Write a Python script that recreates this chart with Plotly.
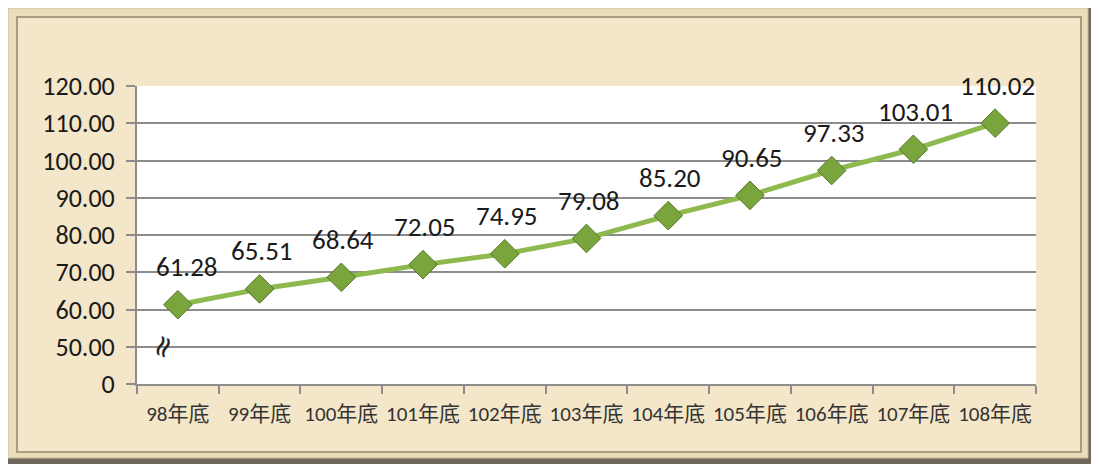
import plotly.graph_objects as go

# data
years = ['98年底', '99年底', '100年底', '101年底', '102年底', '103年底',
         '104年底', '105年底', '106年底', '107年底', '108年底']
values = [61.28, 65.51, 68.64, 72.05, 74.95, 79.08, 85.20, 90.65, 97.33, 103.01, 110.02]
tick_vals = [40, 50, 60, 70, 80, 90, 100, 110, 120]
tick_text = ['0', '50.00', '60.00', '70.00', '80.00', '90.00', '100.00', '110.00', '120.00']

# the page body has an 8px margin, so the figure is laid out 8px in
OFF = 8
W, H = 1099 - OFF, 467 - OFF
L, T = 137 - OFF, 86 - OFF
R = W - (1036 - OFF)
B = H - (384 - OFF)

FONT = 'Carlito, Lato, "Noto Sans CJK TC", sans-serif'


def px(x):
    # page pixel -> paper fraction
    return (x - OFF - L) / (W - L - R)


def py(y):
    return (H - B - (y - OFF)) / (H - T - B)


fig = go.Figure()

fig.add_trace(go.Scatter(
    x=years,
    y=values,
    mode='lines+markers',
    line=dict(color='#8EB94E', width=5),
    marker=dict(symbol='diamond', size=22, color='#7AA43C',
                line=dict(color='#55782A', width=1)),
    hoverinfo='x+y'
))

for i, (xv, yv) in enumerate(zip(years, values)):
    # first label sits a bit to the right in the original
    fig.add_annotation(x=xv, y=yv, text=f'{yv:.2f}', showarrow=False,
                       xshift=9 if i == 0 else 2, yshift=38,
                       font=dict(size=27, color='#1a1a1a', family=FONT))

# beveled beige frame and white plot area
shapes = [
    dict(type='rect', xref='paper', yref='paper', layer='below',
         x0=px(8), x1=px(1094), y0=py(8), y1=py(464),
         fillcolor='#6f675c', line=dict(width=0)),
    dict(type='rect', xref='paper', yref='paper', layer='below',
         x0=px(8), x1=px(1088), y0=py(8), y1=py(458),
         fillcolor='#EBDCBA', line=dict(color='#c9bb9d', width=1)),
    dict(type='rect', xref='paper', yref='paper', layer='below',
         x0=px(17), x1=px(1081), y0=py(17), y1=py(452),
         fillcolor='#F3E6C9', line=dict(color='#a89c84', width=2)),
    dict(type='rect', xref='paper', yref='paper', layer='below',
         x0=0, x1=1, y0=0, y1=1,
         fillcolor='#ffffff', line=dict(width=0)),
]
fig.update_layout(shapes=shapes)

# axis break mark
fig.add_annotation(xref='paper', yref='paper', x=px(139), y=py(367),
                   text='≈', showarrow=False, textangle=-70,
                   font=dict(size=30, color='#222222', family='DejaVu Sans'))

fig.update_layout(
    width=W, height=H,
    margin=dict(l=L, r=R, t=T, b=B, pad=0, autoexpand=False),
    paper_bgcolor='#ffffff',
    plot_bgcolor='#ffffff',
    showlegend=False,
    font=dict(family=FONT, color='#1a1a1a'),
    xaxis=dict(
        type='category',
        showgrid=False,
        showline=True, linecolor='#8c8c8c', linewidth=2,
        ticks='outside', ticklen=8, tickcolor='#8c8c8c', tickwidth=2,
        tickson='boundaries',
        tickangle=0,
        automargin=False,
        ticklabelstandoff=10,
        tickfont=dict(size=21, family=FONT, color='#333333'),
        range=[-0.5, 10.5]
    ),
    yaxis=dict(
        range=[40, 120],
        tickvals=tick_vals,
        ticktext=tick_text,
        automargin=False,
        showgrid=True, gridcolor='#8c8c8c', gridwidth=2,
        showline=True, linecolor='#8c8c8c', linewidth=2,
        ticks='outside', ticklen=9, tickcolor='#8c8c8c', tickwidth=2,
        ticklabelstandoff=6,
        tickfont=dict(size=26, color='#1a1a1a', family=FONT),
        zeroline=False
    )
)

fig.write_html('out.html')
